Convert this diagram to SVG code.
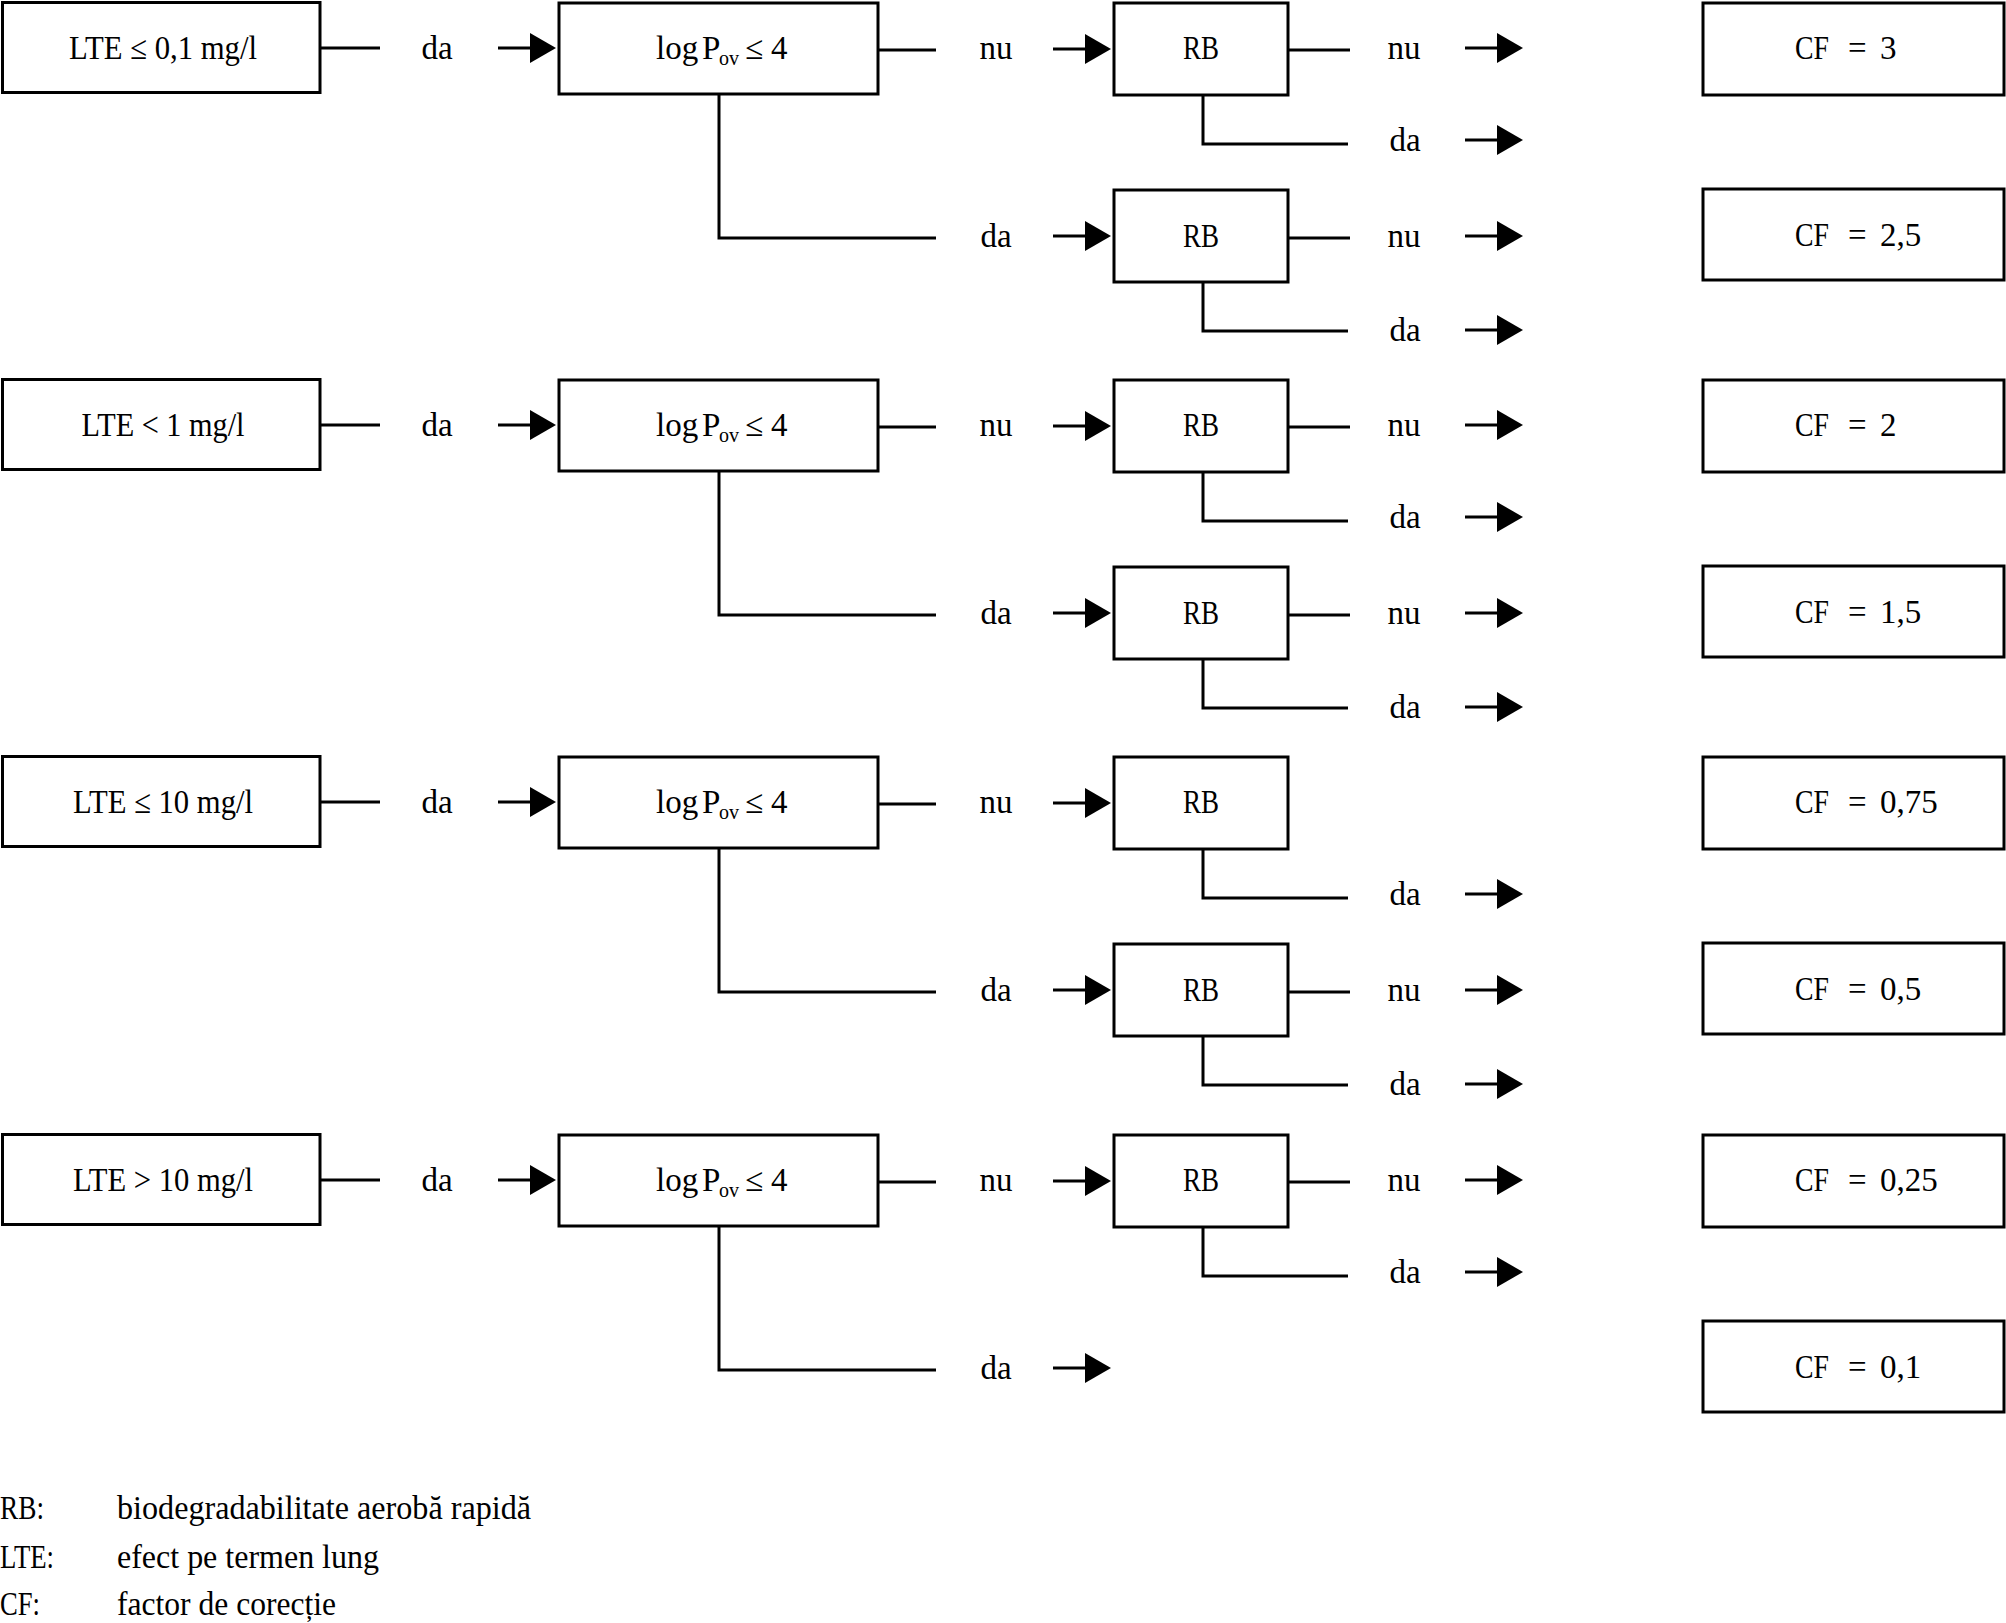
<svg xmlns="http://www.w3.org/2000/svg" width="2006" height="1623" viewBox="0 0 2006 1623">
<style>
text{font-family:"Liberation Serif","Times New Roman",serif;font-size:33px;fill:#000}
.m{text-anchor:middle}
.sub{font-size:20px}
rect{fill:#fff;stroke:#000;stroke-width:3}
.c line,.c polyline{fill:none;stroke:#000;stroke-width:3}
.c .a{marker-end:url(#ah)}
</style>
<defs>
<marker id="ah" markerUnits="userSpaceOnUse" markerWidth="26" markerHeight="30" refX="10" refY="15" orient="auto"><path d="M0,0 L26,15 L0,30 z" fill="#000"/></marker>
</defs>
<rect x="0" y="0" width="2006" height="1623" style="stroke:none"/>

<!-- Group 1 -->
<g id="lte1"><rect x="2.5" y="2.5" width="317.5" height="90"/><text class="m" x="163" y="59" textLength="188" lengthAdjust="spacingAndGlyphs">LTE ≤ 0,1 mg/l</text></g>
<g id="log1"><rect x="559" y="3" width="319" height="91"/><text y="59"><tspan x="656">log</tspan><tspan x="702">P</tspan><tspan class="sub" x="719" y="65">ov</tspan><tspan x="745" y="59">≤</tspan><tspan x="771">4</tspan></text></g>
<g id="rb1a"><rect x="1114" y="3" width="174" height="92"/><text class="m" x="1201" y="59" textLength="36" lengthAdjust="spacingAndGlyphs">RB</text></g>
<g id="rb1b"><rect x="1114" y="190" width="174" height="92"/><text class="m" x="1201" y="247" textLength="36" lengthAdjust="spacingAndGlyphs">RB</text></g>
<g id="cf3"><rect x="1703" y="3" width="301" height="92"/><text x="1795" y="59" textLength="34" lengthAdjust="spacingAndGlyphs">CF</text><text x="1848" y="59">=</text><text x="1880" y="59">3</text></g>
<g id="cf25"><rect x="1703" y="189" width="301" height="91"/><text x="1795" y="246" textLength="34" lengthAdjust="spacingAndGlyphs">CF</text><text x="1848" y="246">=</text><text x="1880" y="246">2,5</text></g>

<!-- Group 2 -->
<g id="lte2"><rect x="2.5" y="379.5" width="317.5" height="90"/><text class="m" x="163" y="436" textLength="163" lengthAdjust="spacingAndGlyphs">LTE &lt; 1 mg/l</text></g>
<g id="log2"><rect x="559" y="380" width="319" height="91"/><text y="436"><tspan x="656">log</tspan><tspan x="702">P</tspan><tspan class="sub" x="719" y="442">ov</tspan><tspan x="745" y="436">≤</tspan><tspan x="771">4</tspan></text></g>
<g id="rb2a"><rect x="1114" y="380" width="174" height="92"/><text class="m" x="1201" y="436" textLength="36" lengthAdjust="spacingAndGlyphs">RB</text></g>
<g id="rb2b"><rect x="1114" y="567" width="174" height="92"/><text class="m" x="1201" y="624" textLength="36" lengthAdjust="spacingAndGlyphs">RB</text></g>
<g id="cf2"><rect x="1703" y="380" width="301" height="92"/><text x="1795" y="436" textLength="34" lengthAdjust="spacingAndGlyphs">CF</text><text x="1848" y="436">=</text><text x="1880" y="436">2</text></g>
<g id="cf15"><rect x="1703" y="566" width="301" height="91"/><text x="1795" y="623" textLength="34" lengthAdjust="spacingAndGlyphs">CF</text><text x="1848" y="623">=</text><text x="1880" y="623">1,5</text></g>

<!-- Group 3 -->
<g id="lte3"><rect x="2.5" y="756.5" width="317.5" height="90"/><text class="m" x="163" y="813" textLength="180" lengthAdjust="spacingAndGlyphs">LTE ≤ 10 mg/l</text></g>
<g id="log3"><rect x="559" y="757" width="319" height="91"/><text y="813"><tspan x="656">log</tspan><tspan x="702">P</tspan><tspan class="sub" x="719" y="819">ov</tspan><tspan x="745" y="813">≤</tspan><tspan x="771">4</tspan></text></g>
<g id="rb3a"><rect x="1114" y="757" width="174" height="92"/><text class="m" x="1201" y="813" textLength="36" lengthAdjust="spacingAndGlyphs">RB</text></g>
<g id="rb3b"><rect x="1114" y="944" width="174" height="92"/><text class="m" x="1201" y="1001" textLength="36" lengthAdjust="spacingAndGlyphs">RB</text></g>
<g id="cf075"><rect x="1703" y="757" width="301" height="92"/><text x="1795" y="813" textLength="34" lengthAdjust="spacingAndGlyphs">CF</text><text x="1848" y="813">=</text><text x="1880" y="813">0,75</text></g>
<g id="cf05"><rect x="1703" y="943" width="301" height="91"/><text x="1795" y="1000" textLength="34" lengthAdjust="spacingAndGlyphs">CF</text><text x="1848" y="1000">=</text><text x="1880" y="1000">0,5</text></g>

<!-- Group 4 -->
<g id="lte4"><rect x="2.5" y="1134.5" width="317.5" height="90"/><text class="m" x="163" y="1191" textLength="180" lengthAdjust="spacingAndGlyphs">LTE &gt; 10 mg/l</text></g>
<g id="log4"><rect x="559" y="1135" width="319" height="91"/><text y="1191"><tspan x="656">log</tspan><tspan x="702">P</tspan><tspan class="sub" x="719" y="1197">ov</tspan><tspan x="745" y="1191">≤</tspan><tspan x="771">4</tspan></text></g>
<g id="rb4a"><rect x="1114" y="1135" width="174" height="92"/><text class="m" x="1201" y="1191" textLength="36" lengthAdjust="spacingAndGlyphs">RB</text></g>
<g id="cf025"><rect x="1703" y="1135" width="301" height="92"/><text x="1795" y="1191" textLength="34" lengthAdjust="spacingAndGlyphs">CF</text><text x="1848" y="1191">=</text><text x="1880" y="1191">0,25</text></g>
<g id="cf01"><rect x="1703" y="1321" width="301" height="91"/><text x="1795" y="1378" textLength="34" lengthAdjust="spacingAndGlyphs">CF</text><text x="1848" y="1378">=</text><text x="1880" y="1378">0,1</text></g>

<g id="connectors" class="c">
<!-- Group 1 -->
<line x1="320" y1="48" x2="380" y2="48"/><text class="m" x="437" y="59">da</text><line class="a" x1="498" y1="48" x2="540" y2="48"/>
<line x1="878" y1="50" x2="936" y2="50"/><text class="m" x="996" y="59">nu</text><line class="a" x1="1053" y1="49" x2="1095" y2="49"/>
<line x1="1288" y1="50" x2="1350" y2="50"/><text class="m" x="1404" y="59">nu</text><line class="a" x1="1465" y1="48" x2="1507" y2="48"/>
<polyline points="1203,95 1203,144 1348,144"/><text class="m" x="1405" y="151">da</text><line class="a" x1="1465" y1="140" x2="1507" y2="140"/>
<polyline points="719,94 719,238 936,238"/><text class="m" x="996" y="247">da</text><line class="a" x1="1053" y1="236" x2="1095" y2="236"/>
<line x1="1288" y1="238" x2="1350" y2="238"/><text class="m" x="1404" y="247">nu</text><line class="a" x1="1465" y1="236" x2="1507" y2="236"/>
<polyline points="1203,282 1203,331 1348,331"/><text class="m" x="1405" y="341">da</text><line class="a" x1="1465" y1="330" x2="1507" y2="330"/>
<!-- Group 2 -->
<line x1="320" y1="425" x2="380" y2="425"/><text class="m" x="437" y="436">da</text><line class="a" x1="498" y1="425" x2="540" y2="425"/>
<line x1="878" y1="427" x2="936" y2="427"/><text class="m" x="996" y="436">nu</text><line class="a" x1="1053" y1="426" x2="1095" y2="426"/>
<line x1="1288" y1="427" x2="1350" y2="427"/><text class="m" x="1404" y="436">nu</text><line class="a" x1="1465" y1="425" x2="1507" y2="425"/>
<polyline points="1203,472 1203,521 1348,521"/><text class="m" x="1405" y="528">da</text><line class="a" x1="1465" y1="517" x2="1507" y2="517"/>
<polyline points="719,471 719,615 936,615"/><text class="m" x="996" y="624">da</text><line class="a" x1="1053" y1="613" x2="1095" y2="613"/>
<line x1="1288" y1="615" x2="1350" y2="615"/><text class="m" x="1404" y="624">nu</text><line class="a" x1="1465" y1="613" x2="1507" y2="613"/>
<polyline points="1203,659 1203,708 1348,708"/><text class="m" x="1405" y="718">da</text><line class="a" x1="1465" y1="707" x2="1507" y2="707"/>
<!-- Group 3 -->
<line x1="320" y1="802" x2="380" y2="802"/><text class="m" x="437" y="813">da</text><line class="a" x1="498" y1="802" x2="540" y2="802"/>
<line x1="878" y1="804" x2="936" y2="804"/><text class="m" x="996" y="813">nu</text><line class="a" x1="1053" y1="803" x2="1095" y2="803"/>
<polyline points="1203,849 1203,898 1348,898"/><text class="m" x="1405" y="905">da</text><line class="a" x1="1465" y1="894" x2="1507" y2="894"/>
<polyline points="719,848 719,992 936,992"/><text class="m" x="996" y="1001">da</text><line class="a" x1="1053" y1="990" x2="1095" y2="990"/>
<line x1="1288" y1="992" x2="1350" y2="992"/><text class="m" x="1404" y="1001">nu</text><line class="a" x1="1465" y1="990" x2="1507" y2="990"/>
<polyline points="1203,1036 1203,1085 1348,1085"/><text class="m" x="1405" y="1095">da</text><line class="a" x1="1465" y1="1084" x2="1507" y2="1084"/>
<!-- Group 4 -->
<line x1="320" y1="1180" x2="380" y2="1180"/><text class="m" x="437" y="1191">da</text><line class="a" x1="498" y1="1180" x2="540" y2="1180"/>
<line x1="878" y1="1182" x2="936" y2="1182"/><text class="m" x="996" y="1191">nu</text><line class="a" x1="1053" y1="1181" x2="1095" y2="1181"/>
<line x1="1288" y1="1182" x2="1350" y2="1182"/><text class="m" x="1404" y="1191">nu</text><line class="a" x1="1465" y1="1180" x2="1507" y2="1180"/>
<polyline points="1203,1227 1203,1276 1348,1276"/><text class="m" x="1405" y="1283">da</text><line class="a" x1="1465" y1="1272" x2="1507" y2="1272"/>
<polyline points="719,1226 719,1370 936,1370"/><text class="m" x="996" y="1379">da</text><line class="a" x1="1053" y1="1368" x2="1095" y2="1368"/>
</g>

<g id="legend">
<text x="0" y="1519" textLength="44" lengthAdjust="spacingAndGlyphs">RB:</text><text x="117" y="1519" textLength="414" lengthAdjust="spacingAndGlyphs">biodegradabilitate aerobă rapidă</text>
<text x="0" y="1568" textLength="54" lengthAdjust="spacingAndGlyphs">LTE:</text><text x="117" y="1568" textLength="262" lengthAdjust="spacingAndGlyphs">efect pe termen lung</text>
<text x="0" y="1615" textLength="40" lengthAdjust="spacingAndGlyphs">CF:</text><text x="117" y="1615" textLength="219" lengthAdjust="spacingAndGlyphs">factor de corecție</text>
</g>
</svg>
